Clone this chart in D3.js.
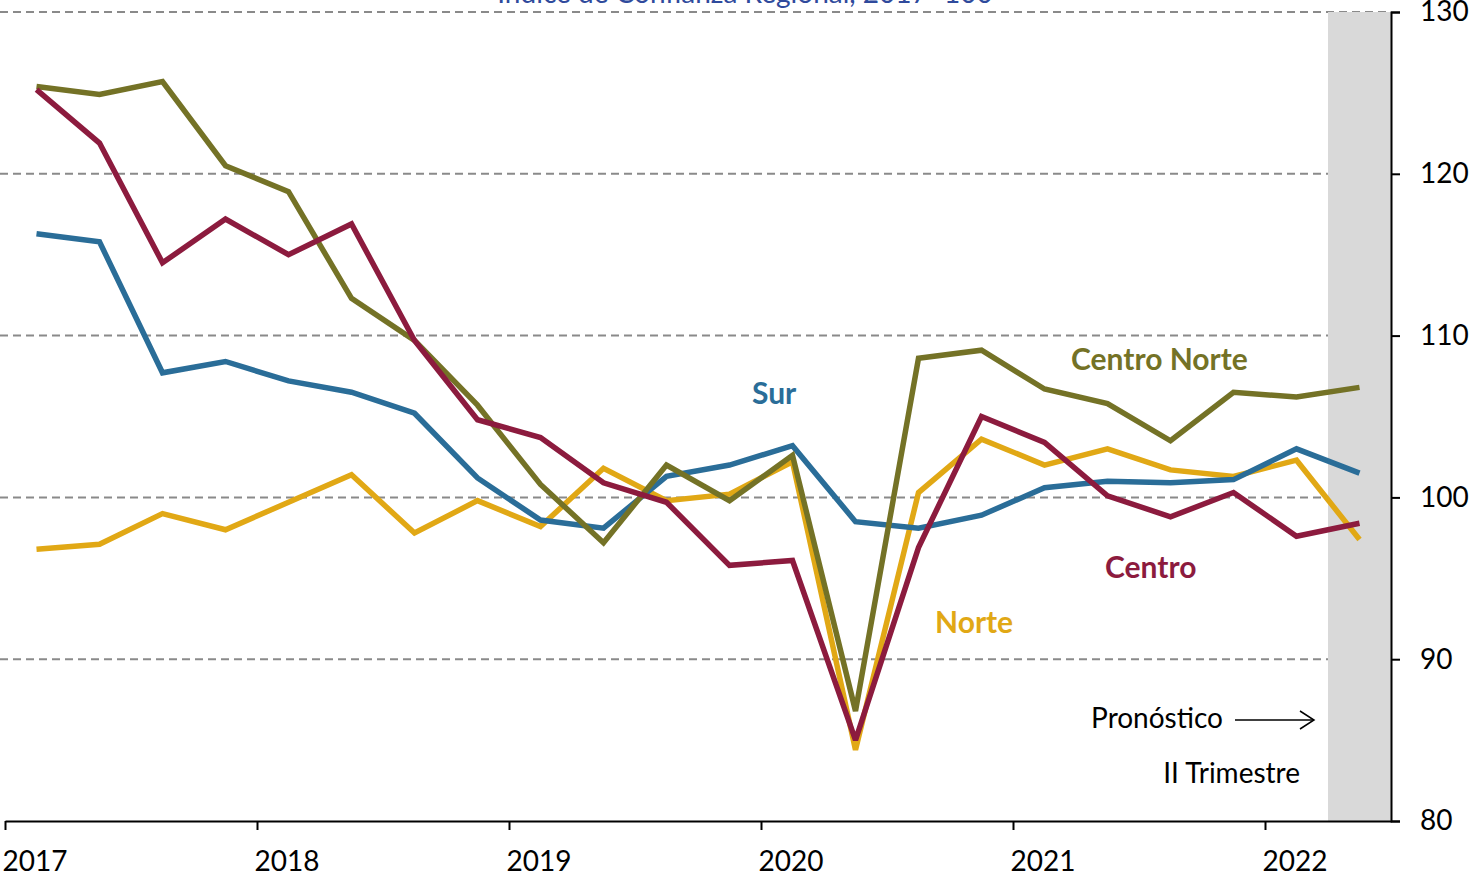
<!DOCTYPE html>
<html>
<head>
<meta charset="utf-8">
<script src="https://cdn.jsdelivr.net/npm/d3@7"></script>
<style>
  body { margin: 0; background: #fff; }
  svg { display: block; font-family: Lato, "Open Sans", sans-serif; }
</style>
</head>
<body>
<div id="chart"></div>
<script>
const quarters = ["2017T1","2017T2","2017T3","2017T4","2018T1","2018T2","2018T3","2018T4",
  "2019T1","2019T2","2019T3","2019T4","2020T1","2020T2","2020T3","2020T4",
  "2021T1","2021T2","2021T3","2021T4","2022T1","2022T2"];
const years = ["2017","2018","2019","2020","2021","2022"];
const yTicks = [80, 90, 100, 110, 120, 130];

const centroNorte = [125.4,124.9,125.7,120.5,118.9,112.3,109.7,105.7,100.8,97.2,102.0,99.8,
  102.6,86.8,108.6,109.1,106.7,105.8,103.5,106.5,106.2,106.8];
const centro = [125.2,121.9,114.5,117.2,115.0,116.9,109.7,104.8,103.7,100.9,99.7,95.8,
  96.1,85.0,96.9,105.0,103.4,100.1,98.8,100.3,97.6,98.4];
const sur = [116.3,115.8,107.7,108.4,107.2,106.5,105.2,101.2,98.6,98.1,101.3,102.0,
  103.2,98.5,98.1,98.9,100.6,101.0,100.9,101.1,103.0,101.5];
const norte = [96.8,97.1,99.0,98.0,99.7,101.4,97.8,99.8,98.2,101.8,99.8,100.2,
  102.2,84.4,100.3,103.6,102.0,103.0,101.7,101.3,102.3,97.4];

const series = [
  { name: "Norte", values: norte, color: "#e1a815" },
  { name: "Sur", values: sur, color: "#2a6d98" },
  { name: "Centro Norte", values: centroNorte, color: "#747226" },
  { name: "Centro", values: centro, color: "#8c1b3e" }
];

const W = 1473, H = 880;
const svg = d3.select("#chart").append("svg").attr("width", W).attr("height", H);

const x = d3.scaleLinear().domain([0, quarters.length]).range([5, 1391]);
const y = d3.scaleLinear().domain([80, 130]).range([821, 12]);

// title, cut off at the top edge as in the source
svg.append("text")
  .attr("x", 745).attr("y", 3)
  .attr("text-anchor", "middle")
  .attr("fill", "#2f4a9c")
  .style("font-size", "28px")
  .text("Índice de Confianza Regional, 2017=100");

// grid
svg.append("g").selectAll("line")
  .data(yTicks.filter(d => d > 80))
  .join("line")
  .attr("x1", 0).attr("x2", 1391)
  .attr("y1", d => y(d)).attr("y2", d => y(d))
  .attr("stroke", "#8a8a8a").attr("stroke-width", 2)
  .attr("stroke-dasharray", "8,5");

// forecast band (last quarter)
svg.append("rect")
  .attr("x", x(quarters.length - 1)).attr("y", y(130))
  .attr("width", x(quarters.length) - x(quarters.length - 1))
  .attr("height", y(80) - y(130))
  .attr("fill", "#d9d9d9");

// right axis
const yAxis = svg.append("g")
  .attr("transform", `translate(${x(quarters.length)},0)`)
  .call(d3.axisRight(y).tickValues(yTicks).tickSize(9).tickPadding(20));
yAxis.select(".domain").attr("stroke", "#000").attr("stroke-width", 2);
yAxis.selectAll(".tick line").attr("stroke", "#000").attr("stroke-width", 2);
yAxis.selectAll("text").style("font-size", "28px").attr("fill", "#000")
  .style("font-family", "Lato, sans-serif");

// bottom axis
const yearIdx = years.map((d, i) => i * 4);
const xAxis = svg.append("g")
  .attr("transform", `translate(0,${y(80)})`)
  .call(d3.axisBottom(x).tickValues(yearIdx).tickSize(9).tickSizeOuter(0)
    .tickFormat((d, i) => years[i]));
xAxis.select(".domain").attr("stroke", "#000").attr("stroke-width", 2);
xAxis.selectAll(".tick line").attr("stroke", "#000").attr("stroke-width", 2);
xAxis.selectAll("text")
  .attr("text-anchor", "start").attr("x", -3).attr("y", 30)
  .style("font-size", "28px").attr("fill", "#000")
  .style("font-family", "Lato, sans-serif");

// lines
const line = d3.line()
  .x((d, i) => x(i + 0.5))
  .y(d => y(d));

svg.append("g").selectAll("path")
  .data(series)
  .join("path")
  .attr("d", d => line(d.values))
  .attr("fill", "none")
  .attr("stroke", d => d.color)
  .attr("stroke-width", 5.5)
  .attr("stroke-linejoin", "miter")
  .attr("stroke-miterlimit", 3);

// series labels
const labels = [
  { text: "Sur", x: 752, y: 404, color: "#2a6d98" },
  { text: "Centro Norte", x: 1071, y: 370, color: "#747226" },
  { text: "Centro", x: 1105, y: 578, color: "#8c1b3e" },
  { text: "Norte", x: 935, y: 633, color: "#e1a815" }
];
svg.append("g").selectAll("text")
  .data(labels)
  .join("text")
  .attr("x", d => d.x).attr("y", d => d.y)
  .attr("fill", d => d.color)
  .style("font-size", "30px").style("font-weight", "bold")
  .text(d => d.text);

// forecast annotation
svg.append("text")
  .attr("x", 1223).attr("y", 728).attr("text-anchor", "end")
  .style("font-size", "28px").attr("fill", "#000")
  .text("Pronóstico");
svg.append("text")
  .attr("x", 1300).attr("y", 783).attr("text-anchor", "end")
  .style("font-size", "28px").attr("fill", "#000")
  .text("II Trimestre");
svg.append("line")
  .attr("x1", 1235).attr("x2", 1314).attr("y1", 720).attr("y2", 720)
  .attr("stroke", "#000").attr("stroke-width", 1.5);
svg.append("path")
  .attr("d", "M1300,711 L1314,720 L1300,729")
  .attr("fill", "none").attr("stroke", "#000").attr("stroke-width", 1.5);
</script>
</body>
</html>
